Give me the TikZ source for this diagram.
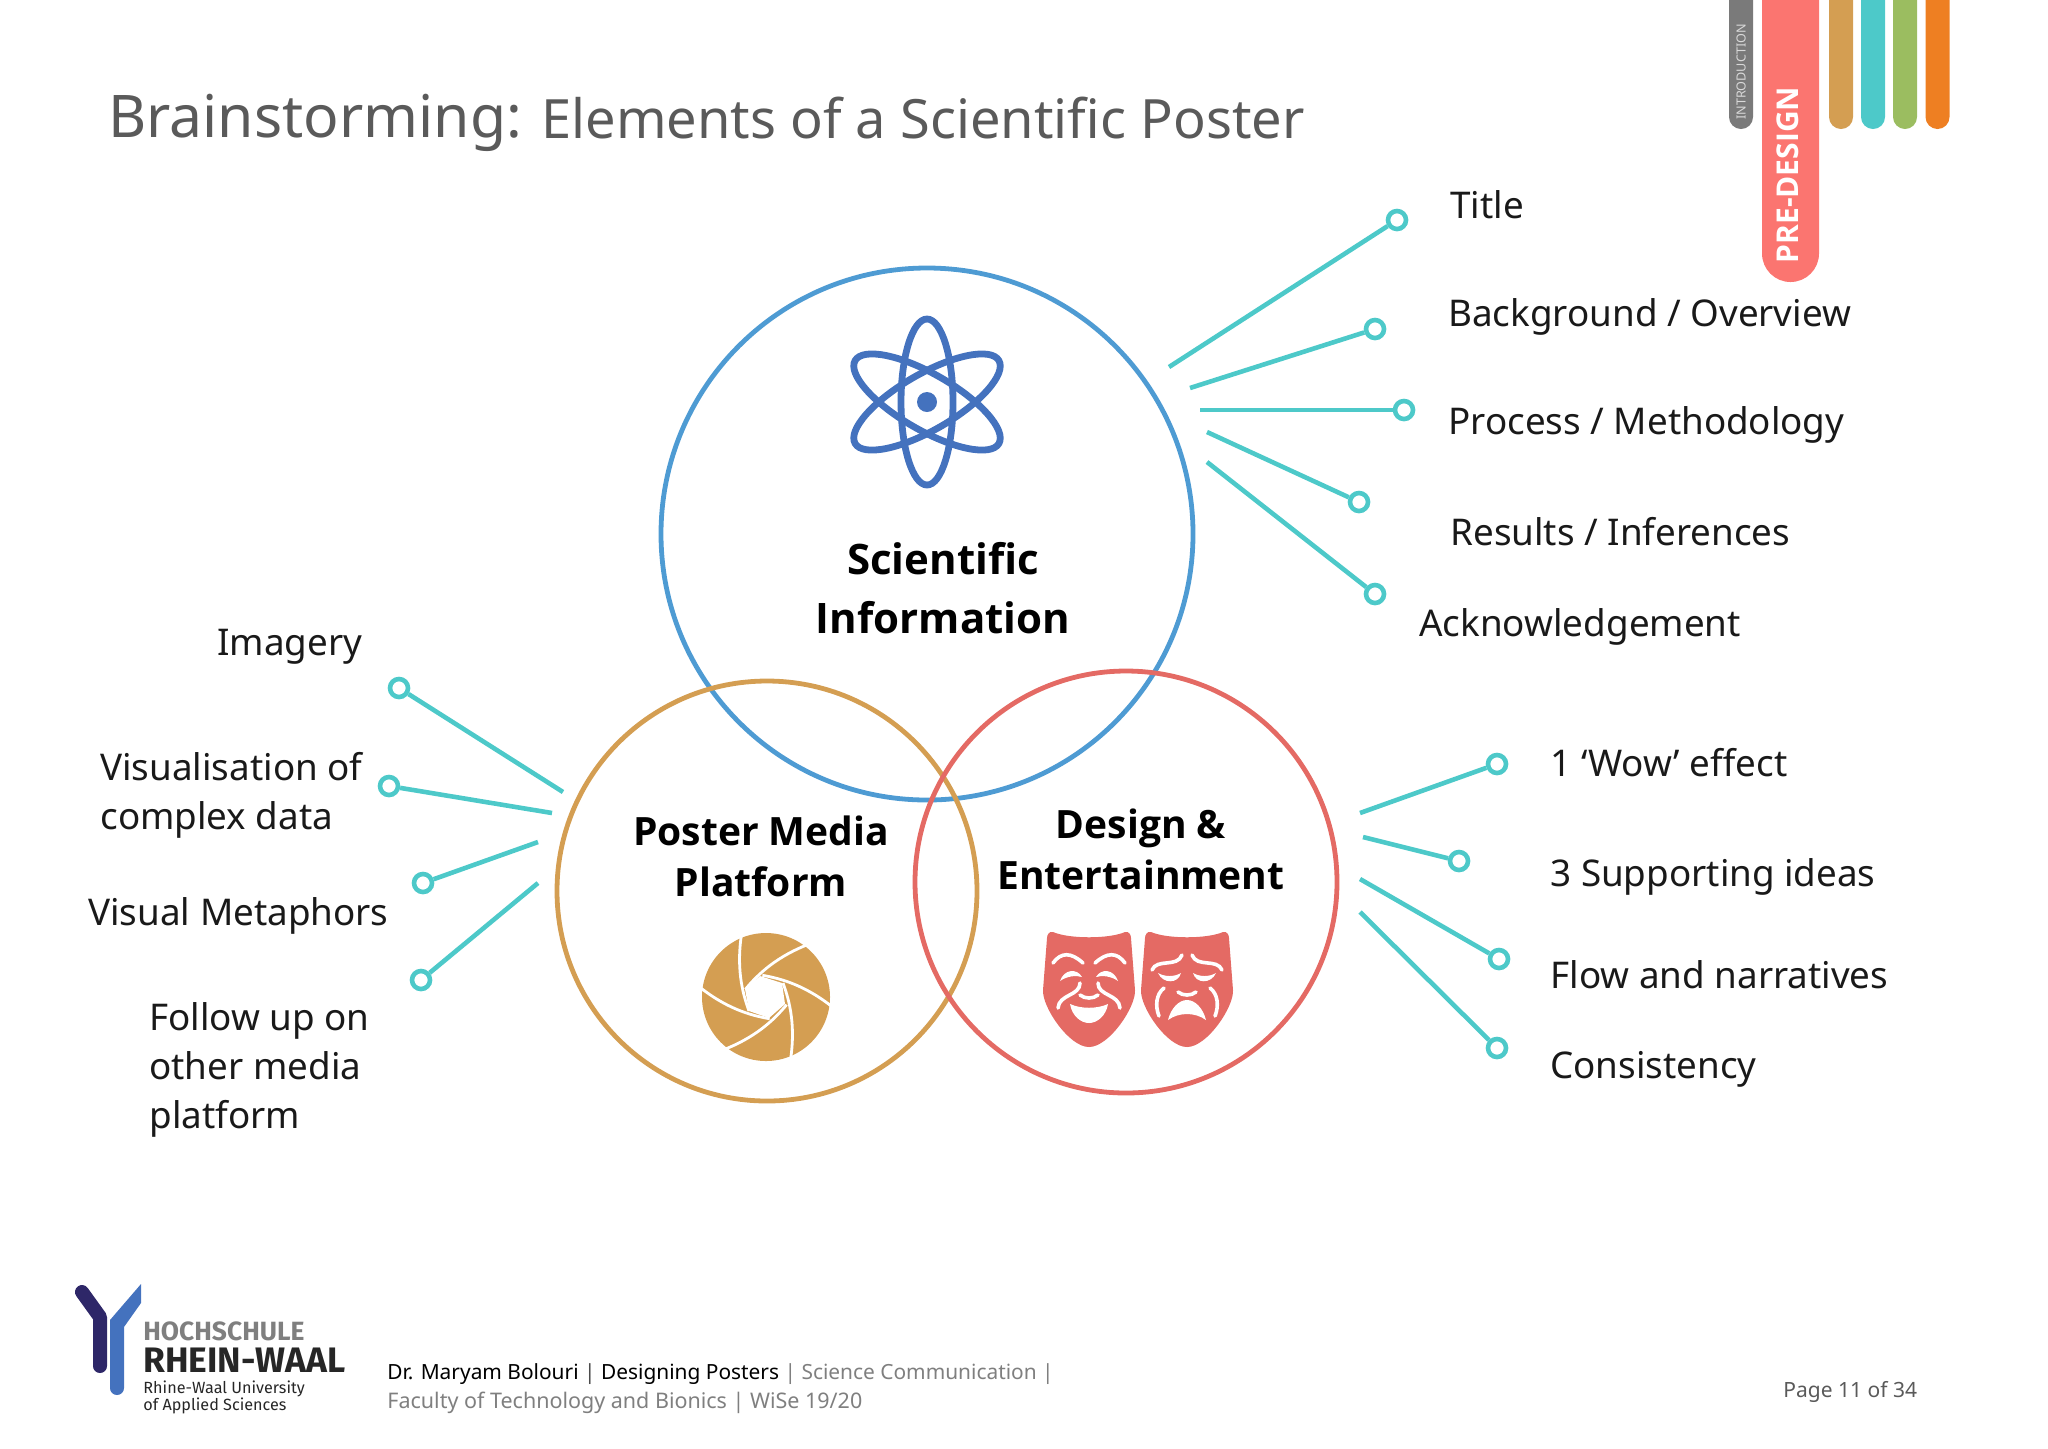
\documentclass[tikz,border=0pt]{standalone}
\usepackage{fontspec}
\setmainfont[BoldFont={Open Sans Bold}]{Noto Sans}
\newfontfamily\logofont{Fira Sans}
\usepackage{tikz}
\definecolor{sciblue}{HTML}{4E9BD3}
\definecolor{atomblue}{HTML}{4472BE}
\definecolor{mediatan}{HTML}{D49E52}
\definecolor{designred}{HTML}{E46A64}
\definecolor{linkteal}{HTML}{4DC9C9}
\definecolor{tabgray}{HTML}{7A7A7A}
\definecolor{tabred}{HTML}{FB7570}
\definecolor{tabgreen}{HTML}{9BBD60}
\definecolor{taborange}{HTML}{EE7F22}
\definecolor{titlegray}{HTML}{5A5A5A}
\definecolor{footgray}{HTML}{7F7F7F}
\definecolor{logodark}{HTML}{2E2768}
\tikzset{
	venn/.style={circle, draw=#1, line width=2.4pt, minimum size=211pt, inner sep=0pt},
	dot/.style={circle, draw=linkteal, fill=white, line width=2.3pt, minimum size=9pt, inner sep=0pt},
	link/.style={draw=linkteal, line width=2.3pt},
	item/.style={anchor=base west, inner sep=0pt, font=\fontsize{18.4}{24.5}\selectfont, text=black!90},
	itemblock/.style={anchor=west, inner sep=0pt, align=left, font=\fontsize{18.4}{24.5}\selectfont, text=black!90},
	head/.style 2 args={inner sep=0pt, align=center, font=\fontsize{#1}{#2}\selectfont\bfseries},
	foot/.style={anchor=base west, inner sep=0pt, font=\fontsize{#1}{13}\selectfont},
	crease/.style={draw=white, line width=1.8pt, line cap=round},
	pics/maskbody/.style={code={
		\fill[designred] (-36,0) .. controls (-20,7) and (20,7) .. (36,0) .. controls (40,-1) and (42,3) .. (42,6)
		-- (46,58) .. controls (47,75) and (20,115) .. (0,115) .. controls (-20,115) and (-47,75) .. (-46,58)
		-- (-42,6) .. controls (-42,3) and (-40,-1) .. (-36,0) -- cycle;
	}},
}
\begin{document}
\begin{tikzpicture}[x=0.5pt, y=-0.5pt]
		\useasboundingbox (0,0) rectangle (2048,1448);
		\foreach \x/\w/\b/\c in {1741/12/129/tabgray, 1790.5/28.5/282/tabred, 1841/12/129/mediatan, 1873/12/129/linkteal, 1905/12/129/tabgreen, 1937.5/12/129/taborange}
			\fill[\c] (\x-\w,0) -- (\x-\w,\b-\w) arc[start angle=180, end angle=360, x radius=\w, y radius=-\w] -- (\x+\w,0) -- cycle;
		\node[rotate=90, text=white!85!black, inner sep=0pt, font=\fontsize{6.3}{8}\selectfont] (intro) at (1741,72) {INTRODUCTION};
		\node[rotate=90, text=white, inner sep=0pt, font=\fontsize{15}{18}\selectfont\bfseries] (predesign) at (1788,175) {PRE-DESIGN};
		\node[anchor=base west, inner sep=0pt, text=titlegray, font=\fontsize{29.4}{34}\selectfont] (brain) at (108,137) {Brainstorming:};
		\node[anchor=base west, inner sep=0pt, text=titlegray, font=\fontsize{27.1}{34}\selectfont] (elements) at (541,138) {Elements of a Scientific Poster};
		
		\node[venn=sciblue, minimum size=266pt] (sci) at (927,534) {};
		\node[venn=mediatan, minimum size=210pt] (media) at (767,891) {};
		\node[venn=designred] (design) at (1126,882) {};
		\node[head={21}{29.5}] (scitext) at (943,588) {Scientific\\Information};
		\node[head={19.5}{25.5}] (mediatext) at (761,856) {Poster Media\\Platform};
		\node[head={19.5}{25.5}] (designtext) at (1141,849) {Design \&\\Entertainment};
		
		\coordinate (A) at (927,402);
		\draw[atomblue, line width=3.4pt] (A) ellipse [x radius=26, y radius=83];
		\draw[atomblue, line width=3.4pt, rotate around={60:(A)}] (A) ellipse [x radius=28, y radius=83];
		\draw[atomblue, line width=3.4pt, rotate around={-60:(A)}] (A) ellipse [x radius=28, y radius=83];
		\fill[atomblue] (A) circle [radius=10];
		
		\begin{scope}[shift={(766,997)}]
		\fill[mediatan] (0,0) circle [radius=64];
		\foreach \a in {0,60,...,300}
			\draw[white, line width=1.4pt, rotate=\a] (-17,14) .. controls (-24,-5) and (-30,-30) .. (-24,-66);
		\fill[white] (-21,-8) -- (-6,-21) -- (16,-14) -- (19,7) -- (3,21) -- (-17,14) -- cycle;
		\end{scope}
		
		\begin{scope}[shift={(1089,932)}]
		\pic {maskbody};
		\draw[crease] (-36,31) .. controls (-28,20) and (-18,20) .. (-6,31);
		\draw[crease] (36,31) .. controls (28,20) and (18,20) .. (6,31);
		\fill[white] (-29,49) .. controls (-25,37) and (-12,36) .. (-7,45) .. controls (-13,43) and (-22,44) .. (-29,49) -- cycle;
		\fill[white] (29,49) .. controls (25,37) and (12,36) .. (7,45) .. controls (13,43) and (22,44) .. (29,49) -- cycle;
		\draw[crease] (-9,51) .. controls (-9,64) and (-30,62) .. (-31,76);
		\draw[crease] (9,51) .. controls (9,64) and (30,62) .. (31,76);
		\draw[crease] (-9,63) .. controls (-4,67) and (4,67) .. (9,63);
		\fill[white] (-19,72) .. controls (-8,77) and (8,77) .. (19,72) .. controls (17,84) and (8,91) .. (0,91) .. controls (-8,91) and (-17,84) .. (-19,72) -- cycle;
		\end{scope}
		
		\begin{scope}[shift={(1187,932)}]
		\pic {maskbody};
		\draw[crease] (-35,38) .. controls (-30,26) and (-10,36) .. (-5,23);
		\draw[crease] (35,38) .. controls (30,26) and (10,36) .. (5,23);
		\fill[white] (-29,41) .. controls (-22,45) and (-13,45) .. (-6,41) .. controls (-9,52) and (-24,52) .. (-29,41) -- cycle;
		\fill[white] (29,41) .. controls (22,45) and (13,45) .. (6,41) .. controls (9,52) and (24,52) .. (29,41) -- cycle;
		\draw[crease] (-23,56) .. controls (-31,62) and (-32,74) .. (-28,84);
		\draw[crease] (23,56) .. controls (31,62) and (32,74) .. (28,84);
		\draw[crease] (-9,60) .. controls (-4,64) and (4,64) .. (9,60);
		\fill[white] (-19,88) .. controls (-16,76) and (-8,68) .. (0,68) .. controls (8,68) and (16,76) .. (19,88) .. controls (8,80) and (-8,80) .. (-19,88) -- cycle;
		\end{scope}
		
		\coordinate (S1) at (1169,367);
		\coordinate (S2) at (1190,388);
		\coordinate (S3) at (1200,410);
		\coordinate (S4) at (1207,432);
		\coordinate (S5) at (1207,462);
		\node[dot] (title) at (1397,220) {};
		\node[dot] (background) at (1375,329) {};
		\node[dot] (process) at (1404,410) {};
		\node[dot] (results) at (1359,502) {};
		\node[dot] (ack) at (1375,594) {};
		\draw[link] (S1) -- (title);
		\draw[link] (S2) -- (background);
		\draw[link] (S3) -- (process);
		\draw[link] (S4) -- (results);
		\draw[link] (S5) -- (ack);
		\node[item] (titletext) at (1450,218) {Title};
		\node[item] (backgroundtext) at (1448,326) {Background / Overview};
		\node[item] (processtext) at (1448,434) {Process / Methodology};
		\node[item] (resultstext) at (1450,545) {Results / Inferences};
		\node[item] (acktext) at (1419,636) {Acknowledgement};
		
		\coordinate (M1) at (563,792);
		\coordinate (M2) at (552,813);
		\coordinate (M3) at (538,842);
		\coordinate (M4) at (538,883);
		\node[dot] (imagery) at (399,688) {};
		\node[dot] (complex) at (389,786) {};
		\node[dot] (metaphors) at (423,883) {};
		\node[dot] (follow) at (421,980) {};
		\draw[link] (M1) -- (imagery);
		\draw[link] (M2) -- (complex);
		\draw[link] (M3) -- (metaphors);
		\draw[link] (M4) -- (follow);
		\node[item] (imagerytext) at (217,655) {Imagery};
		\node[itemblock] (complextext) at (100,795) {Visualisation of\\complex data};
		\node[item] (metaphorstext) at (88,925) {Visual Metaphors};
		\node[itemblock] (followtext) at (149,1070) {Follow up on\\other media\\platform};
		
		\coordinate (D1) at (1360,813);
		\coordinate (D2) at (1363,837);
		\coordinate (D3) at (1360,879);
		\coordinate (D4) at (1360,912);
		\node[dot] (wow) at (1497,764) {};
		\node[dot] (ideas) at (1459,861) {};
		\node[dot] (flow) at (1499,959) {};
		\node[dot] (consistency) at (1497,1048) {};
		\draw[link] (D1) -- (wow);
		\draw[link] (D2) -- (ideas);
		\draw[link] (D3) -- (flow);
		\draw[link] (D4) -- (consistency);
		\node[item] (wowtext) at (1550,776) {1 ‘Wow’ effect};
		\node[item] (ideastext) at (1550,886) {3 Supporting ideas};
		\node[item] (flowtext) at (1550,988) {Flow and narratives};
		\node[item] (consistencytext) at (1550,1078) {Consistency};
		
		\draw[logodark, line width=7pt, line cap=round, line join=round] (82,1292) -- (100,1317) -- (100,1366);
		\fill[atomblue] (141,1284) -- (141,1303) -- (124,1327) -- (124,1388) arc[start angle=0, end angle=180, x radius=7, y radius=7] -- (110,1320) -- cycle;
		\node[anchor=base west, inner sep=0pt, text=footgray, font=\logofont\fontsize{13.2}{15}\selectfont\bfseries] (hochschule) at (143,1340) {HOCHSCHULE};
		\node[anchor=base west, inner sep=0pt, text=black!85, font=\logofont\fontsize{17.7}{19}\selectfont\bfseries] (rhein) at (143,1372) {RHEIN-WAAL};
		\node[anchor=base west, inner sep=0pt, text=black!85, font=\logofont\fontsize{8.1}{10}\selectfont] (rhine) at (143,1393) {Rhine-Waal University};
		\node[anchor=base west, inner sep=0pt, text=black!85, font=\logofont\fontsize{8.1}{10}\selectfont] (applied) at (143,1410) {of Applied Sciences};
		
		\node[foot=10.45] (footone) at (387,1379) {Dr. Maryam Bolouri {\color{black!70}|} Designing Posters {\color{footgray}| Science Communication |}};
		\node[foot=10.75, text=footgray] (foottwo) at (387,1408) {Faculty of Technology and Bionics | WiSe 19/20};
		\node[foot=10.5, text=titlegray] (page) at (1783,1397) {Page 11 of 34};
		\end{tikzpicture}
\end{document}
